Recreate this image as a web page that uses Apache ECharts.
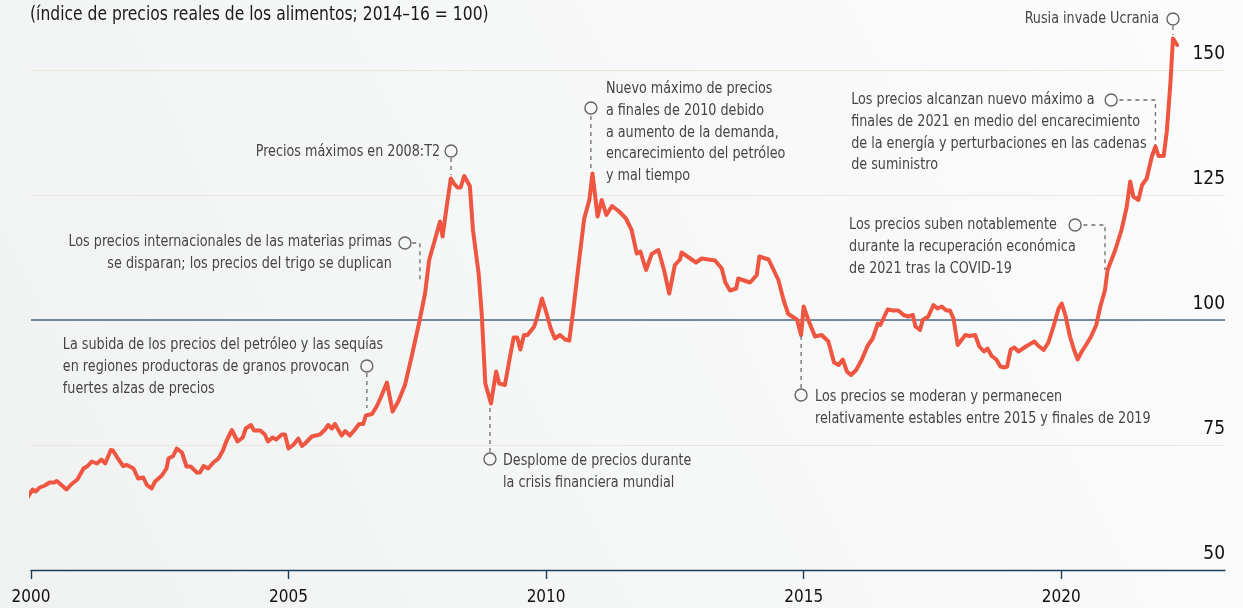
<!DOCTYPE html>
<html>
<head>
<meta charset="utf-8">
<script src="https://cdn.jsdelivr.net/npm/echarts@6/dist/echarts.min.js"></script>
<style>
html,body{margin:0;padding:0;background:#f4f5f5;}
#chart{width:1243px;height:608px;}
</style>
</head>
<body>
<div id="chart"></div>
<script>
// ---- data ----
const title = '(índice de precios reales de los alimentos; 2014–16 = 100)';
const xTicks = [2000, 2005, 2010, 2015, 2020];
const yTicks = [50, 75, 100, 125, 150];
const years = [
1999.92,2000.03,2000.09,2000.17,2000.27,2000.36,2000.45,2000.50,2000.69,2000.79,2000.90,
2001.02,2001.10,2001.18,2001.28,2001.37,2001.44,2001.55,2001.59,2001.70,2001.79,2001.86,2001.99,
2002.08,2002.18,2002.25,2002.34,2002.41,2002.54,2002.63,2002.67,2002.76,2002.83,2002.93,
2003.02,2003.10,2003.22,2003.28,2003.35,2003.44,2003.54,2003.64,2003.73,2003.79,2003.90,
2004.01,2004.11,2004.17,2004.27,2004.33,2004.45,2004.54,2004.60,2004.69,2004.76,2004.87,2004.93,
2005.00,2005.09,2005.19,2005.26,2005.32,2005.45,2005.61,2005.71,2005.77,2005.84,2005.90,
2006.03,2006.10,2006.19,2006.29,2006.37,2006.45,2006.50,2006.62,2006.71,2006.79,2006.91,
2007.02,2007.13,2007.26,2007.39,2007.54,2007.65,2007.73,2007.84,2007.94,2007.99,
2008.07,2008.15,2008.21,2008.28,2008.34,2008.41,2008.52,2008.58,2008.69,2008.75,2008.82,2008.93,
2009.03,2009.09,2009.20,2009.30,2009.37,2009.44,2009.50,2009.57,2009.64,2009.77,2009.83,2009.92,
2010.01,2010.09,2010.17,2010.27,2010.37,2010.45,2010.52,2010.65,2010.74,2010.84,2010.90,
2011.00,2011.08,2011.17,2011.28,2011.42,2011.55,2011.66,2011.76,2011.83,2011.94,
2012.05,2012.18,2012.29,2012.39,2012.50,2012.60,2012.63,2012.91,
2013.02,2013.15,2013.28,2013.41,2013.48,2013.57,2013.69,2013.73,2013.96,
2014.09,2014.14,2014.32,2014.51,2014.61,2014.70,2014.87,2014.95,
2015.00,2015.09,2015.22,2015.35,2015.48,2015.59,2015.68,2015.76,2015.84,2015.92,
2016.02,2016.13,2016.24,2016.34,2016.44,2016.49,2016.63,2016.74,2016.84,2016.94,
2017.03,2017.12,2017.17,2017.26,2017.31,2017.42,2017.52,2017.60,2017.68,2017.77,2017.84,2017.91,2017.99,
2018.14,2018.22,2018.33,2018.41,2018.50,2018.57,2018.65,2018.74,2018.82,2018.89,2018.95,
2019.02,2019.09,2019.17,2019.33,2019.48,2019.56,2019.66,2019.75,2019.85,2019.95,
2020.01,2020.08,2020.17,2020.25,2020.32,2020.40,2020.47,2020.58,2020.68,2020.76,2020.85,2020.90,
2021.05,2021.17,2021.27,2021.34,2021.40,2021.50,2021.57,2021.66,2021.76,2021.83,2021.89,2021.99,
2022.05,2022.12,2022.17,2022.25
];
const values = [
64.3,66.1,65.7,66.5,66.9,67.5,67.5,67.8,66.1,67.2,68.1,
70.3,70.8,71.7,71.3,72.1,71.3,74.0,73.9,72.1,70.8,71.0,70.3,
68.3,68.5,67.0,66.3,67.7,68.9,70.3,72.3,72.8,74.3,73.5,
70.7,70.7,69.5,69.5,70.8,70.3,71.5,72.3,74.0,75.7,78.0,
75.7,76.5,78.3,79.0,77.9,77.9,77.1,75.7,76.5,76.1,77.1,77.1,
74.3,75.0,76.3,74.8,75.3,76.7,77.1,78.1,79.0,78.3,79.2,
76.9,77.8,76.9,78.1,79.2,79.2,80.9,81.2,82.7,84.5,87.5,
81.7,83.7,87.0,92.7,99.7,105.3,112.0,116.0,119.7,116.7,
122.7,128.3,127.3,126.5,126.5,128.8,126.8,118.0,109.3,101.3,87.3,83.3,
89.7,87.3,87.0,92.7,96.5,96.5,94.1,97.0,97.0,98.7,100.7,104.3,
101.3,98.3,96.3,97.0,96.1,95.9,101.3,112.7,120.3,124.0,129.3,
120.7,124.0,121.0,122.8,121.7,120.3,118.0,113.3,113.7,110.0,
113.2,114.0,110.0,105.3,111.0,112.1,113.5,111.5,
112.3,112.1,111.9,110.3,107.5,105.9,106.3,108.3,107.5,
109.0,112.7,112.1,108.0,104.0,101.2,100.1,97.0,
102.7,100.0,96.7,97.0,95.7,91.5,91.0,92.1,89.7,89.0,
90.0,92.1,94.8,96.3,99.3,99.0,102.1,101.9,101.9,101.0,
100.7,101.0,98.7,98.0,100.0,100.7,103.0,102.3,102.7,101.9,101.9,100.3,95.0,
97.0,96.8,97.0,94.7,93.7,94.3,92.8,92.1,90.7,90.5,90.7,
94.1,94.5,93.7,94.8,95.7,94.8,94.0,95.5,98.7,102.3,
103.3,101.0,96.7,94.0,92.1,93.7,94.8,96.7,99.0,102.7,106.0,110.0,
114.0,118.0,122.5,127.7,124.7,124.0,127.0,128.3,132.7,134.7,132.8,132.8,
137.7,147.3,156.3,155.0
];
const noteTexts = [
  'Precios máximos en 2008:T2',
  'Los precios internacionales de las materias primas\nse disparan; los precios del trigo se duplican',
  'La subida de los precios del petróleo y las sequías\nen regiones productoras de granos provocan\nfuertes alzas de precios',
  'Desplome de precios durante\nla crisis financiera mundial',
  'Nuevo máximo de precios\na finales de 2010 debido\na aumento de la demanda,\nencarecimiento del petróleo\ny mal tiempo',
  'Los precios se moderan y permanecen\nrelativamente estables entre 2015 y finales de 2019',
  'Los precios suben notablemente\ndurante la recuperación económica\nde 2021 tras la COVID-19',
  'Los precios alcanzan nuevo máximo a\nfinales de 2021 en medio del encarecimiento\nde la energía y perturbaciones en las cadenas\nde suministro',
  'Rusia invade Ucrania'
];
// annotation anchors in data space [year, index]
const noteAnchors = [
  [2008.155,133.8],[2007.26,115.4],[2006.52,90.8],[2008.91,72.2],[2010.87,142.4],
  [2014.95,85.0],[2020.27,119.0],[2020.97,144.0],[2022.17,160.2]
];
const noteLeaders = [
  [[2008.155,132.4],[2008.155,129.0]],
  [[2007.40,115.4],[2007.55,115.4],[2007.55,107.4]],
  [[2006.52,89.4],[2006.52,82.4]],
  [[2008.91,73.6],[2008.91,82.4]],
  [[2010.87,140.8],[2010.87,129.6]],
  [[2014.95,86.4],[2014.95,97.0]],
  [[2020.43,119.0],[2020.85,119.0],[2020.85,110.0]],
  [[2021.13,144.0],[2021.83,144.0],[2021.83,135.0]],
  [[2022.17,158.8],[2022.17,157.0]]
];

// ---- layout / style (not data) ----
const FONT = "'Liberation Sans Narrow','DejaVu Sans Condensed','Roboto',sans-serif";
const noteLayout = [
  {dx:-11, c1:1, align:'right'},
  {dx:-13, c1:-1, align:'right'},
  {dx:-304, c1:-21, align:'left'},
  {dx:13, c1:2, align:'left'},
  {dx:15, c1:-19, align:'left'},
  {dx:14, c1:2, align:'left'},
  {dx:-226, c1:0, align:'left'},
  {dx:-260, c1:0, align:'left'},
  {dx:-14, c1:0, align:'right'}
];
const LH = 21.7;
const NOTE_SX = 0.887;

const chart = echarts.init(document.getElementById('chart'), null, {renderer:'canvas'});
const seriesData = years.map((y,i)=>[y, values[i]]);

chart.setOption({
  backgroundColor: {type:'linear', x:0, y:1, x2:1, y2:0,
    colorStops:[{offset:0,color:'#f0f2f2'},{offset:1,color:'#fcfcfc'}]},
  animation:false,
  grid:{left:31, right:18, top:70, bottom:38, containLabel:false},
  xAxis:{
    type:'value', min:2000, max:2023.18,
    axisLine:{show:true, lineStyle:{color:'#1d3c5a', width:1.4}},
    axisTick:{show:true, length:9, customValues:xTicks, lineStyle:{color:'#1d3c5a', width:1.4}},
    axisLabel:{customValues:xTicks, margin:19, fontFamily:FONT, fontSize:17, color:'#111',
      formatter:v=>String(v)},
    splitLine:{show:false}
  },
  yAxis:{
    type:'value', position:'right', min:50, max:150, interval:25,
    axisLine:{show:false}, axisTick:{show:false},
    axisLabel:{inside:true, margin:0, verticalAlign:'bottom', padding:[0,0,6,0],
      fontFamily:FONT, fontSize:19, color:'#111', formatter:v=>yTicks.includes(v)?String(v):''},
    splitLine:{show:true, lineStyle:{color:'#ebe5da', width:1.2}}
  },
  series:[{
    type:'line', data:seriesData, showSymbol:false, clip:false,
    lineStyle:{color:'#ef5641', width:4, join:'round', cap:'round'},
    z:5,
    markLine:{silent:true, symbol:'none', label:{show:false},
      lineStyle:{color:'#4a6a86', width:1.5, type:'solid'},
      data:[{yAxis:100}], z:3}
  }]
});

function px(p){ return chart.convertToPixel({gridIndex:0}, p); }
const gfx = [];
gfx.push({type:'text', silent:true, z:11, x:30, y:15, scaleX:0.91,
  style:{text:title, fill:'#1a1a1a', font:"19px "+FONT, align:'left', verticalAlign:'middle'}});
noteTexts.forEach((t,i)=>{
  const c = px(noteAnchors[i]);
  const L = noteLayout[i];
  gfx.push({type:'polyline', silent:true, z:10,
    shape:{points:noteLeaders[i].map(px)},
    style:{stroke:'#6e6e6e', lineWidth:1.3, lineDash:[4,4], fill:null}});
  gfx.push({type:'circle', silent:true, z:11,
    shape:{cx:c[0], cy:c[1], r:6},
    style:{stroke:'#666', lineWidth:1.4, fill:'rgba(0,0,0,0)'}});
  gfx.push({type:'text', silent:true, z:11,
    x:c[0]+L.dx, y:c[1]+L.c1-LH/2, scaleX:NOTE_SX,
    style:{text:t, fill:'#454545', font:"16px "+FONT, align:L.align,
      verticalAlign:'top', lineHeight:LH}});
});
chart.setOption({graphic:gfx});
</script>
</body>
</html>
